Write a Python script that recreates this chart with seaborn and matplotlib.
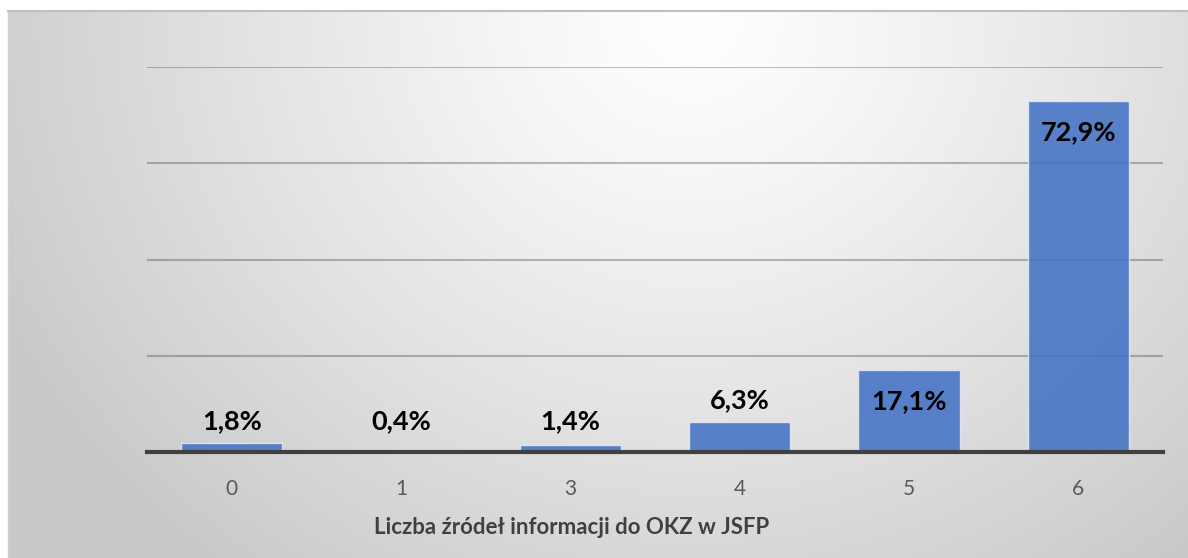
import numpy as np
import matplotlib
matplotlib.use('Agg')
import matplotlib.pyplot as plt
import seaborn as sns

# data
categories = ['0', '1', '3', '4', '5', '6']
values = [1.8, 0.4, 1.4, 6.3, 17.1, 72.9]
labels = ['1,8%', '0,4%', '1,4%', '6,3%', '17,1%', '72,9%']
xlabel = 'Liczba źródeł informacji do OKZ w JSFP'

sns.set_style('white')
plt.rcParams['font.family'] = ['Lato', 'DejaVu Sans']

W, H = 1188, 558
fig = plt.figure(figsize=(W / 100, H / 100), dpi=100)

# radial gradient background of the chart area
bg = fig.add_axes([8 / W, 0, 1 - 8 / W, 1 - 11 / H])
yy, xx = np.mgrid[11:H, 8:W]
d = np.sqrt((xx - 690) ** 2 + ((yy - 20) * 1.1) ** 2)
v = 1 - 0.21 * np.clip(d / 760, 0, 1) ** 1.2
bg.imshow(np.dstack([v, v, v]), aspect='auto', extent=[0, 1, 0, 1])
bg.set_xticks([])
bg.set_yticks([])
for s in bg.spines.values():
    s.set_visible(False)
bg.spines['top'].set_visible(True)
bg.spines['top'].set_color('#bfbfbf')
bg.spines['top'].set_linewidth(1.5)
bg.spines['left'].set_visible(True)
bg.spines['left'].set_color('#d0d0d0')
bg.spines['left'].set_linewidth(1)

ax = fig.add_axes([147 / W, 1 - 452 / H, (1163 - 147) / W, (452 - 67) / H])
ax.patch.set_alpha(0)
sns.barplot(x=categories, y=values, order=categories, color='#4472C4', width=0.6,
            saturation=1, alpha=0.88, edgecolor='#e3e9f5', linewidth=1, ax=ax, zorder=3)
ax.set_ylim(0, 80)
ax.set_xlim(-0.5, 5.5)
ax.set_yticks([0, 20, 40, 60, 80])
ax.yaxis.grid(True, color='black', alpha=0.25, linewidth=1.5, zorder=0)
ax.set_axisbelow(True)
ax.tick_params(axis='y', left=False, labelleft=False)
ax.tick_params(axis='x', bottom=False, labelsize=15, labelcolor='#595959', pad=16)
for s in ['top', 'right', 'left']:
    ax.spines[s].set_visible(False)
ax.spines['bottom'].set_color('#404040')
ax.spines['bottom'].set_linewidth(3)
ax.spines['bottom'].set_zorder(5)
ax.set_xlabel('')
ax.set_ylabel('')

# labels inside the end of tall bars, above short ones
for i, (val, lab) in enumerate(zip(values, labels)):
    if val > 10:
        ax.annotate(lab, (i, val), xytext=(0, -14), textcoords='offset points',
                    ha='center', va='top', fontsize=19.5, fontweight='bold', color='black', zorder=6)
    else:
        ax.annotate(lab, (i, max(val, 1.8)), xytext=(0, 7), textcoords='offset points',
                    ha='center', va='bottom', fontsize=19.5, fontweight='bold', color='black', zorder=6)

fig.text(572 / W, 1 - 528 / H, xlabel, ha='center', va='center', fontsize=16,
         fontweight='bold', color='#404040')

fig.savefig('out.png', dpi=100, facecolor='white')
